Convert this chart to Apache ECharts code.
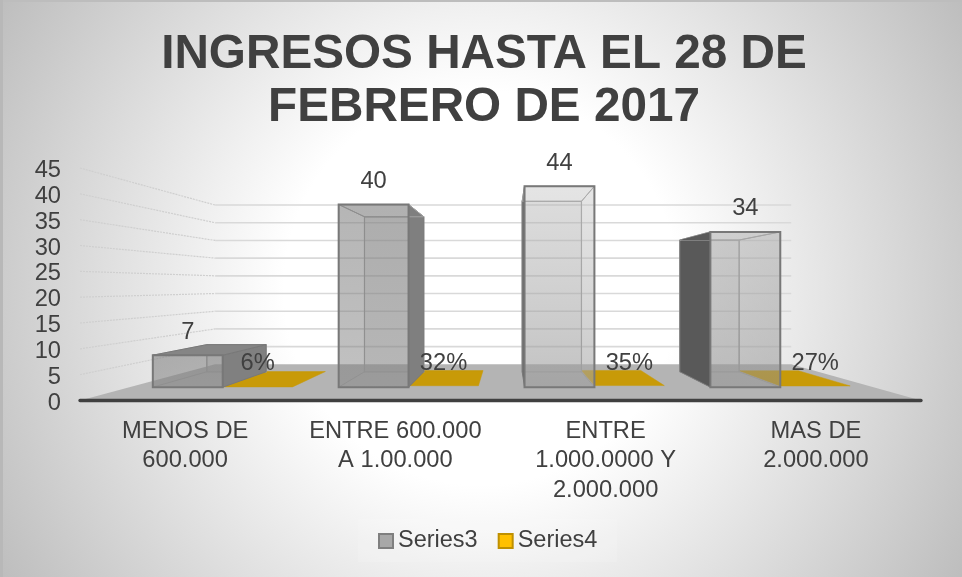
<!DOCTYPE html>
<html>
<head>
<meta charset="utf-8">
<style>html,body{margin:0;padding:0;background:#fff}#c{width:962px;height:577px}</style>
<script src="https://cdn.jsdelivr.net/npm/echarts@6/dist/echarts.min.js"></script>
</head>
<body>
<div id="c"></div>
<script>
const titleText = 'INGRESOS HASTA EL 28 DE\nFEBRERO DE 2017';
const categories = ['MENOS DE\n600.000', 'ENTRE 600.000\nA 1.00.000', 'ENTRE\n1.000.0000 Y\n2.000.000', 'MAS DE\n2.000.000'];
const series3Values = [7, 40, 44, 34];
const series4Values = [0.06, 0.32, 0.35, 0.27];
const valueTicks = [0, 5, 10, 15, 20, 25, 30, 35, 40, 45];

// one-point perspective of the chart box; scale 1 is the front plane (the grid)
const VP = [509, 285.6];
const S_WALL = 0.685, S_BAR_FRONT = 0.884, S_BAR_BACK = 0.75;
const BAR_W = 0.376;            // of one category band
const font = '"Liberation Sans", Arial, sans-serif';
const ink = '#404040';

function proj(p, s) { return [VP[0] + (p[0] - VP[0]) * s, VP[1] + (p[1] - VP[1]) * s]; }
function vGrad(a, b) { return new echarts.graphic.LinearGradient(0, 0, 0, 1, [{ offset:0, color:a }, { offset:1, color:b }]); }

// faces of each grey box
const greyFaces = [
  { left:'rgba(150,150,150,.05)', right:'#808080', top:'#858585', front:vGrad('rgba(125,125,125,.55)','rgba(125,125,125,.50)'), back:'rgba(160,160,160,.25)', sliver:null },
  { left:'rgba(150,150,150,.05)', right:'#7f7f7f', top:'rgba(130,130,130,.12)', front:vGrad('rgba(125,125,125,.55)','rgba(125,125,125,.45)'), back:'rgba(160,160,160,.25)', sliver:null },
  { left:'#6a6a6a', right:'rgba(225,225,225,.15)', top:'rgba(230,230,230,.25)', front:vGrad('rgba(190,190,190,.35)','rgba(150,150,150,.50)'), back:'rgba(170,170,170,.20)', sliver:null },
  { left:'#595959', right:'rgba(170,170,170,.10)', top:'rgba(215,215,215,.25)', front:vGrad('rgba(170,170,170,.45)','rgba(140,140,140,.45)'), back:'rgba(170,170,170,.25)', sliver:'#595959' }
];

function poly(points, fill, stroke, w) {
  return { type:'polygon', shape:{ points }, style:{ fill, stroke: stroke || 'none', lineWidth: w || 0 } };
}

function box(api, from, to, value) {
  const c = api.coord([api.value(0), 0]);
  const t = api.coord([api.value(0), value]);
  const band = api.size([1, 0])[0];
  const x0 = c[0] + from * band, x1 = c[0] + to * band;
  const f = S_BAR_FRONT, b = S_BAR_BACK;
  return {
    fbl:proj([x0, c[1]], f), fbr:proj([x1, c[1]], f), ftl:proj([x0, t[1]], f), ftr:proj([x1, t[1]], f),
    bbl:proj([x0, c[1]], b), bbr:proj([x1, c[1]], b), btl:proj([x0, t[1]], b), btr:proj([x1, t[1]], b)
  };
}

function renderGrey(params, api) {
  const i = api.value(0), v = api.value(1), F = greyFaces[i];
  const q = box(api, -BAR_W, 0, v);
  const inner = '#a2a2a2', edge = '#787878';
  const children = [
    poly([q.bbl, q.bbr, q.btr, q.btl], F.back, inner, 1.2),
    poly([q.bbl, q.fbl, q.ftl, q.btl], F.left, i >= 2 ? edge : inner, 1),
    poly([q.bbr, q.fbr, q.ftr, q.btr], F.right, i < 2 ? edge : inner, 1),
    poly([q.btl, q.btr, q.ftr, q.ftl], F.top, i === 0 ? edge : inner, 1)
  ];
  if (F.sliver) children.push(poly([q.btl, q.ftl, [q.ftl[0], q.btl[1]]], F.sliver));
  children.push(poly([q.fbl, q.fbr, q.ftr, q.ftl], F.front, edge, 2));
  children.push({ type:'text', style:{ text:String(v), x:(q.ftl[0]+q.ftr[0])/2, y:q.ftl[1]-23, align:'center', verticalAlign:'middle', font:'23.7px '+font, fill:ink } });
  return { type:'group', children };
}

function renderGold(params, api) {
  const q = box(api, 0, BAR_W, api.value(1));
  return poly([q.btl, q.btr, q.ftr, q.ftl], '#c89a08', '#c89a08', 0.5);
}

function renderGoldLabel(params, api) {
  const v = api.value(1);
  const q = box(api, 0, BAR_W, v);
  return { type:'text', style:{ text:Math.round(v*100)+'%', x:(q.fbl[0]+q.fbr[0])/2, y:q.fbl[1]-24, align:'center', verticalAlign:'middle', font:'23.7px '+font, fill:ink } };
}

function renderFloor(params, api) {
  const g = params.coordSys;
  const y = api.coord([0, 0])[1];
  const l = [g.x, y], r = [g.x + g.width, y];
  return poly([l, r, proj(r, S_WALL), proj(l, S_WALL)], '#b4b4b4');
}

function renderGrid(params, api) {
  const g = params.coordSys;
  const y = api.coord([0, api.value(0)])[1];
  const l = [g.x, y], r = [g.x + g.width, y];
  const pl = proj(l, S_WALL), pr = proj(r, S_WALL);
  return { type:'group', children:[
    { type:'polyline', shape:{ points:[l, pl] }, style:{ stroke:'#cfcfcf', lineWidth:1.2, lineDash:[2,1], fill:'none' } },
    { type:'polyline', shape:{ points:[pl, pr] }, style:{ stroke:'#d9d9d9', lineWidth:1.6, fill:'none' } }
  ]};
}

const chart = echarts.init(document.getElementById('c'), null, { renderer:'canvas' });
chart.setOption({
  animation:false,
  backgroundColor:new echarts.graphic.RadialGradient(481, 288, 563, [
    { offset:0, color:'#ffffff' }, { offset:0.35, color:'#ffffff' }, { offset:1, color:'#bdbdbd' }
  ], true),
  title:{ text:titleText, left:479, top:23, textAlign:'center',
    textStyle:{ fontFamily:font, fontWeight:'bold', fontSize:47.7, lineHeight:53, color:ink } },
  legend:{ top:519, left:358, icon:'rect', itemWidth:14, itemHeight:14, itemGap:20, padding:[10,20,9,20],
    backgroundColor:'rgba(255,255,255,.12)',
    textStyle:{ fontFamily:font, fontSize:23.5, color:ink },
    data:[
      { name:'Series3', itemStyle:{ color:'#a8a8a8', borderColor:'#7f7f7f', borderWidth:2 } },
      { name:'Series4', itemStyle:{ color:'#ffc000', borderColor:'#bf9000', borderWidth:2 } }
    ] },
  grid:{ left:80, top:168, width:841, height:232.5 },
  xAxis:{ type:'category', data:categories, z:10,
    axisLine:{ lineStyle:{ color:'#404040', width:3.3, cap:'round' } }, axisTick:{ show:false },
    axisLabel:{ fontFamily:font, fontSize:23.7, color:ink, lineHeight:29.5, margin:16, interval:0 } },
  yAxis:{ type:'value', min:0, max:45, interval:5, splitLine:{ show:false },
    axisLine:{ show:false }, axisTick:{ show:false },
    axisLabel:{ fontFamily:font, fontSize:23.7, color:ink, margin:19, verticalAlign:'top', lineHeight:5 } },
  graphic:[
    { type:'rect', z:100, shape:{ x:0, y:0, width:962, height:2 }, style:{ fill:'#bdbdbd' } },
    { type:'rect', z:100, shape:{ x:0, y:0, width:3, height:577 }, style:{ fill:'#b8b8b8' } }
  ],
  series:[
    { name:'floor', type:'custom', z:1, silent:true, renderItem:renderFloor, data:[[0]], encode:{ x:0 } },
    { name:'grid', type:'custom', z:2, silent:true, renderItem:renderGrid, data:valueTicks.filter(v => v > 0).map(v => [v]), encode:{ y:0 } },
    { name:'Series4', type:'custom', z:3, itemStyle:{ color:'#ffc000' }, renderItem:renderGold,
      data:series4Values.map((v, i) => [i, v]), encode:{ x:0, y:1 } },
    { name:'Series3', type:'custom', z:4, itemStyle:{ color:'#a8a8a8' }, renderItem:renderGrey,
      data:series3Values.map((v, i) => [i, v]), encode:{ x:0, y:1 } },
    { name:'Series4 labels', type:'custom', z:5, silent:true, renderItem:renderGoldLabel,
      data:series4Values.map((v, i) => [i, v]), encode:{ x:0, y:1 } }
  ]
});
</script>
</body>
</html>
